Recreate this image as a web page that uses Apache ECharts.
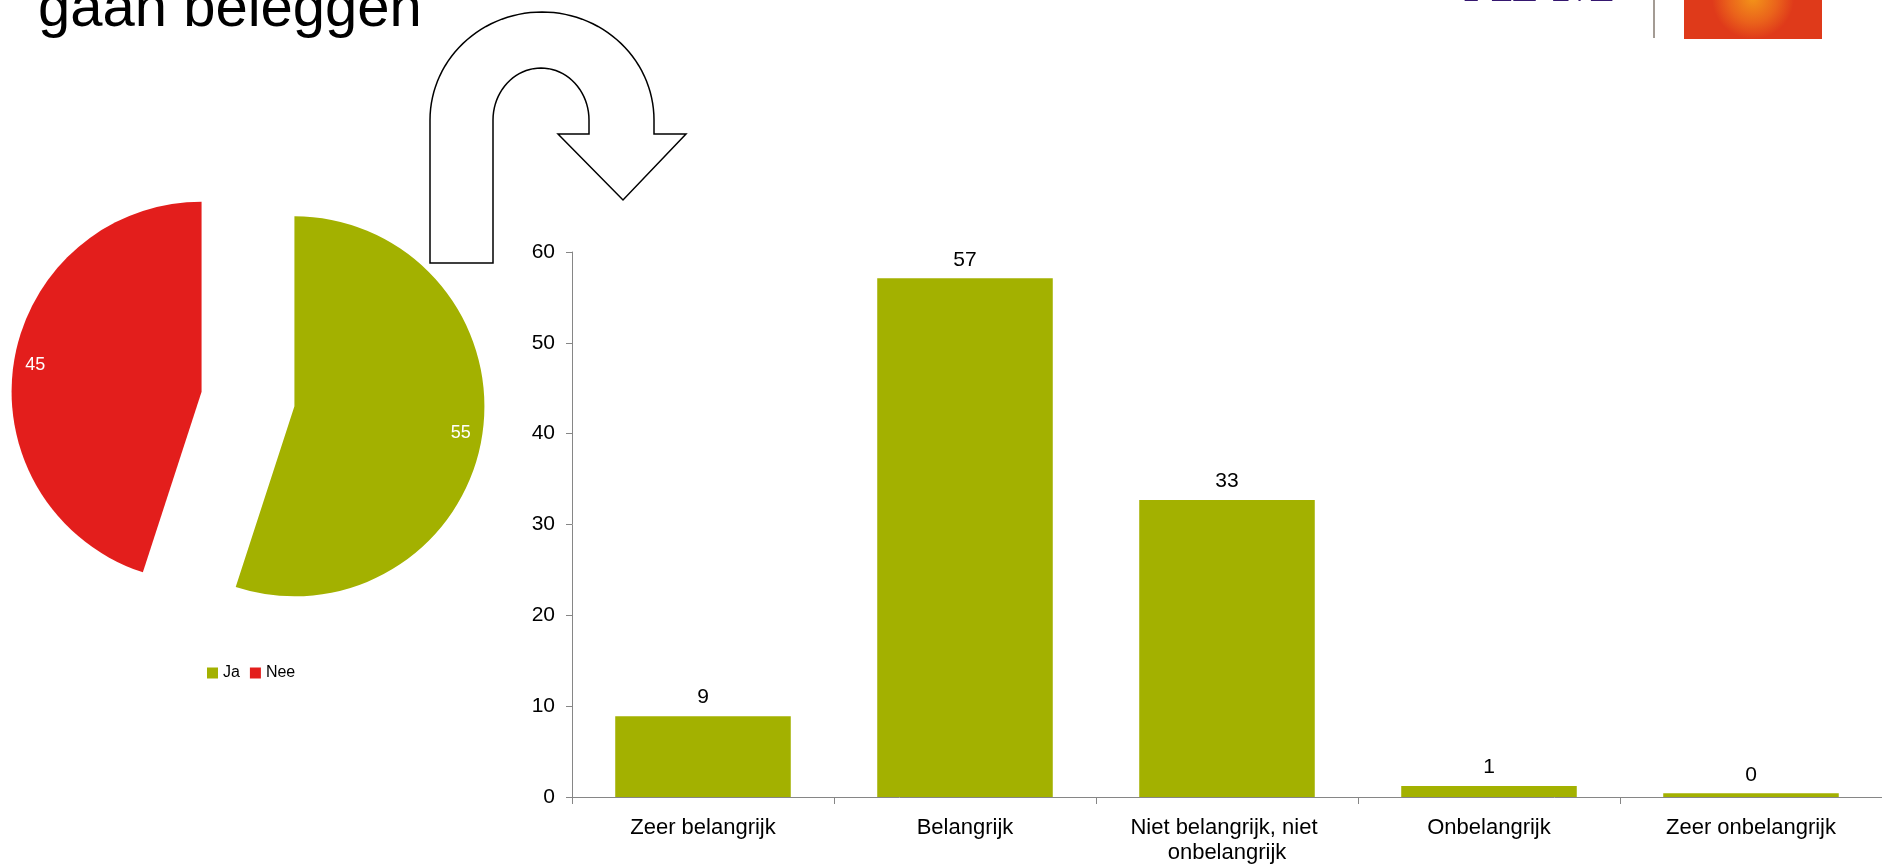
<!DOCTYPE html>
<html>
<head>
<meta charset="utf-8">
<style>
  html, body { margin: 0; padding: 0; background: #ffffff; }
  #chart { width: 1882px; height: 865px; }
</style>
<script src="https://cdn.jsdelivr.net/npm/echarts@6/dist/echarts.min.js"></script>
</head>
<body>
<div id="chart"></div>
<script>
// ---- data ----
var pieNames = ['Ja', 'Nee'];
var pieValues = [55, 45];
var barCategories = ['Zeer belangrijk', 'Belangrijk', 'Niet belangrijk, niet onbelangrijk', 'Onbelangrijk', 'Zeer onbelangrijk'];
var barValues = [8.9, 57.1, 32.7, 1.2, 0.4];
var yTicks = [0, 10, 20, 30, 40, 50, 60];
var titleText = 'gaan beleggen';

// ---- styles ----
var GREEN = '#a3b100';
var RED = '#e31e1c';
var FONT = '"Liberation Sans", Arial, sans-serif';
var pieColors = [GREEN, RED];

var pieCenter = [248, 399];
var pieR = 190;
var pieOffset = 47;

var pieData = pieNames.map(function (n, i) {
  return { name: n, value: pieValues[i], selected: true, itemStyle: { color: pieColors[i] } };
});
var pieLabelData = pieNames.map(function (n, i) {
  return { name: n, value: pieValues[i], selected: true };
});

// U-turn arrow outline (decoration)
function arcPts(cx, cy, rx, ry, a0, a1, n) {
  var pts = [];
  for (var i = 0; i <= n; i++) {
    var a = a0 + (a1 - a0) * i / n;
    pts.push([cx + rx * Math.cos(a), cy - ry * Math.sin(a)]);
  }
  return pts;
}
var arrowPts = [[430, 263]]
  .concat(arcPts(542, 120, 112, 108, Math.PI, 0, 60))
  .concat([[654, 134], [686, 134], [623, 200], [558, 134], [589, 134]])
  .concat(arcPts(541, 120, 48, 52, 0, Math.PI, 40))
  .concat([[493, 263]]);

var chart = echarts.init(document.getElementById('chart'));
chart.setOption({
  animation: false,
  textStyle: { fontFamily: FONT },
  legend: {
    data: pieNames,
    left: 202,
    top: 660,
    icon: 'rect',
    itemWidth: 11,
    itemHeight: 11,
    itemGap: 10,
    textStyle: { fontSize: 16, color: '#000', fontFamily: FONT },
    selectedMode: false
  },
  grid: { left: 572, top: 252, width: 1320, height: 547, containLabel: false },
  xAxis: {
    type: 'category',
    data: barCategories,
    axisLine: { lineStyle: { color: '#868686', width: 1 } },
    axisTick: { show: true, length: 7, lineStyle: { color: '#868686' } },
    axisLabel: { color: '#000', fontSize: 22, fontFamily: FONT, margin: 18, width: 230, overflow: 'break', lineHeight: 25, interval: 0 }
  },
  yAxis: {
    type: 'value',
    min: 0, max: 60, interval: 10,
    axisLine: { show: true, lineStyle: { color: '#868686', width: 1 } },
    axisTick: { show: true, length: 6, lineStyle: { color: '#868686' } },
    splitLine: { show: false },
    axisLabel: { color: '#000', fontSize: 21, fontFamily: FONT, margin: 17,
      formatter: function (v) { return yTicks.indexOf(v) >= 0 ? String(v) : ''; } }
  },
  series: [
    {
      type: 'bar',
      data: barValues,
      barCategoryGap: '33%',
      itemStyle: { color: GREEN },
      label: { show: true, position: 'top', distance: 8, color: '#000', fontSize: 21, fontFamily: FONT,
        formatter: function (p) { return Math.round(p.value).toString(); } }
    },
    {
      type: 'pie',
      center: pieCenter,
      radius: [0, pieR],
      startAngle: 90,
      clockwise: true,
      selectedMode: 'multiple',
      selectedOffset: pieOffset,
      label: { show: false },
      labelLine: { show: false },
      emphasis: { disabled: true },
      data: pieData
    },
    {
      type: 'pie',
      center: pieCenter,
      radius: [pieR * 0.74, pieR],
      startAngle: 90,
      clockwise: true,
      silent: true,
      selectedMode: 'multiple',
      selectedOffset: pieOffset,
      itemStyle: { color: 'rgba(0,0,0,0)' },
      label: { show: true, position: 'inside', color: '#fff', fontSize: 18, fontFamily: FONT, formatter: '{c}' },
      labelLine: { show: false },
      emphasis: { disabled: true },
      data: pieLabelData
    }
  ],
  graphic: [
    {
      type: 'text', x: 38, y: -19,
      style: { text: titleText, fontSize: 58, fontFamily: FONT, fill: '#000' }
    },
    {
      type: 'polygon',
      shape: { points: arrowPts },
      style: { fill: '#fff', stroke: '#000', lineWidth: 1.5 },
      z: 10
    },
    {
      type: 'text', x: 1464, y: -49,
      style: { text: 'AFM', fontSize: 66, fontWeight: 'bold', fontFamily: '"Liberation Serif", serif', fill: '#35176f' }
    },
    {
      type: 'rect', shape: { x: 1653, y: 0, width: 2, height: 38 },
      style: { fill: '#a39b94' }
    },
    {
      type: 'rect', shape: { x: 1684, y: -2, width: 138, height: 41 },
      style: {
        fill: {
          type: 'radial', x: 0.5, y: 0, r: 1,
          colorStops: [
            { offset: 0, color: '#f39419' },
            { offset: 0.6, color: '#ea621b' },
            { offset: 1, color: '#df3a1a' }
          ]
        }
      }
    }
  ]
});
</script>
</body>
</html>
